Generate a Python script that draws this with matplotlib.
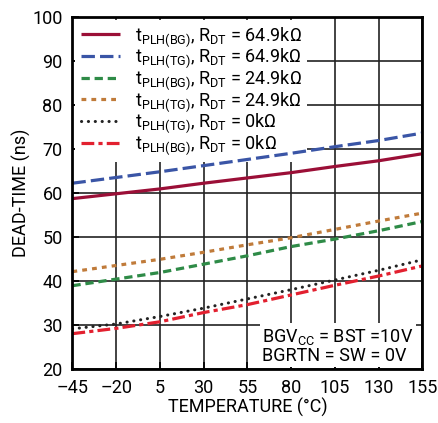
import matplotlib
matplotlib.use("Agg")
import matplotlib.pyplot as plt

# temperature points (deg C)
temp = [-45, -20, 5, 30, 55, 80, 105, 130, 155]

# dead-time (ns)
bg_649 = [58.7, 59.8, 60.9, 62.2, 63.4, 64.6, 66.0, 67.3, 68.9]
tg_649 = [62.2, 63.5, 64.8, 66.2, 67.6, 69.0, 70.5, 71.9, 73.6]
bg_249 = [38.9, 40.4, 41.9, 43.8, 45.7, 47.8, 49.5, 51.4, 53.5]
tg_249 = [42.1, 43.5, 44.9, 46.5, 48.2, 49.8, 51.7, 53.6, 55.4]
tg_0 = [29.1, 30.2, 31.9, 33.8, 35.9, 38.0, 40.2, 42.4, 44.8]
bg_0 = [28.0, 29.2, 30.7, 32.8, 34.6, 36.8, 39.0, 41.1, 43.4]

xticks = [-45, -20, 5, 30, 55, 80, 105, 130, 155]
yticks = [20, 30, 40, 50, 60, 70, 80, 90, 100]

plt.rcParams['font.family'] = ['Roboto', 'DejaVu Sans']
plt.rcParams['mathtext.fontset'] = 'custom'
plt.rcParams['mathtext.rm'] = 'Roboto'
plt.rcParams['mathtext.it'] = 'Roboto'

fig = plt.figure(figsize=(4.39, 4.23), dpi=100)
ax = fig.add_axes([0.165, 0.128, 0.797, 0.832])

lw = 2.3
ax.plot(temp, bg_649, color='#9b0f37', lw=lw, solid_capstyle='butt',
        label=r'$\mathregular{t_{PLH(BG)}}$, $\mathregular{R_{DT}}$ = 64.9kΩ')
ax.plot(temp, tg_649, color='#3a55a6', lw=lw, dashes=(4.2, 1.6),
        label=r'$\mathregular{t_{PLH(TG)}}$, $\mathregular{R_{DT}}$ = 64.9kΩ')
ax.plot(temp, bg_249, color='#2e8b47', lw=lw, dashes=(2.6, 1.5),
        label=r'$\mathregular{t_{PLH(BG)}}$, $\mathregular{R_{DT}}$ = 24.9kΩ')
ax.plot(temp, tg_249, color='#c07b3a', lw=lw, dashes=(1.5, 1.6),
        label=r'$\mathregular{t_{PLH(TG)}}$, $\mathregular{R_{DT}}$ = 24.9kΩ')
ax.plot(temp, tg_0, color='#222222', lw=2.2, dashes=(0.05, 2.2),
        dash_capstyle='round',
        label=r'$\mathregular{t_{PLH(TG)}}$, $\mathregular{R_{DT}}$ = 0kΩ')
ax.plot(temp, bg_0, color='#e2202f', lw=lw, dashes=(4.0, 1.3, 1.3, 1.3),
        label=r'$\mathregular{t_{PLH(BG)}}$, $\mathregular{R_{DT}}$ = 0kΩ')

ax.set_xlim(-45, 155)
ax.set_ylim(20, 100)
ax.set_xticks(xticks)
ax.set_xticklabels(['\u201345', '\u201320'] + [str(t) for t in xticks[2:]])
ax.set_yticks(yticks)
ax.tick_params(direction='in', length=5, width=1.2, labelsize=13, pad=7)
ax.grid(True, color='#222222', lw=1.2)
ax.set_axisbelow(True)
for s in ax.spines.values():
    s.set_linewidth(2)

ax.set_xlabel('TEMPERATURE (°C)', fontsize=13, labelpad=1)
ax.set_ylabel('DEAD-TIME (ns)', fontsize=13, labelpad=1)

leg = ax.legend(loc='upper left', fontsize=13, handlelength=2.2,
                handletextpad=0.8, labelspacing=-0.1, borderaxespad=0.15,
                borderpad=0.3, fancybox=False, framealpha=1)
leg.get_frame().set_edgecolor('none')
leg.get_frame().set_facecolor('white')
leg.set_zorder(1.5)

ax.text(0.975, 0.012, 'BGV$\\mathregular{_{CC}}$ = BST =10V\nBGRTN = SW = 0V',
        transform=ax.transAxes, ha='right', va='bottom', fontsize=13,
        linespacing=1.0, multialignment='left',
        bbox=dict(facecolor='white', edgecolor='none', pad=2))

fig.savefig('out.png', dpi=100)
